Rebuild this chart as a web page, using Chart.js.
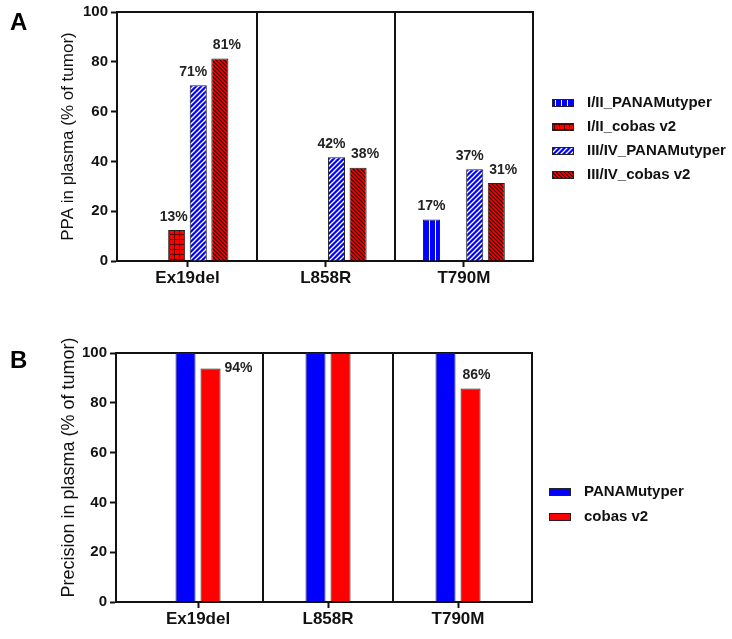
<!DOCTYPE html>
<html>
<head>
<meta charset="utf-8">
<script src="https://cdn.jsdelivr.net/npm/chart.js@4.4.1/dist/chart.umd.min.js"></script>
<style>
body{margin:0;background:#fff;}
#wrap{position:relative;width:732px;height:639px;}
canvas{position:absolute;left:0;}
</style>
</head>
<body>
<div id="wrap">
  <canvas id="chartA" width="732" height="310" style="top:0"></canvas>
  <canvas id="chartB" width="732" height="329" style="top:310px"></canvas>
</div>
<script>
const mutations = ['Ex19del', 'L858R', 'T790M'];
const yTicks = [0, 20, 40, 60, 80, 100];

// panel A : PPA in plasma, by stage and assay
const ppaSeries = ['I/II_PANAMutyper', 'I/II_cobas v2', 'III/IV_PANAMutyper', 'III/IV_cobas v2'];
const ppaEarlyPanama = [null, null, 16.7];
const ppaEarlyCobas = [12.5, null, null];
const ppaLatePanama = [70.6, 41.7, 36.8];
const ppaLateCobas = [81.3, 37.5, 31.3];

// panel B : precision in plasma
const precSeries = ['PANAMutyper', 'cobas v2'];
const precPanama = [100, 100, 100];
const precCobas = [93.8, 100, 85.7];

const BLUE = '#0000ff';
const RED = '#ff0000';
const INK = '#111';
Chart.defaults.font.family = '"Liberation Sans", Arial, sans-serif';

function pattern(kind) {
  const c = document.createElement('canvas');
  const g = c.getContext('2d');
  if (kind === 'vert') {
    c.width = 6; c.height = 6;
    g.fillStyle = BLUE; g.fillRect(0, 0, 6, 6);
    g.fillStyle = '#fff'; g.fillRect(3, 0, 1, 6);
  } else if (kind === 'grid') {
    c.width = 5; c.height = 5;
    g.fillStyle = RED; g.fillRect(0, 0, 5, 5);
    g.fillStyle = '#5a0000'; g.fillRect(4, 0, 1, 5); g.fillRect(0, 4, 5, 1);
  } else if (kind === 'fwd') {
    c.width = 5; c.height = 5;
    g.fillStyle = BLUE; g.fillRect(0, 0, 5, 5);
    g.strokeStyle = '#fff'; g.lineWidth = 1.3;
    g.beginPath();
    g.moveTo(0, 5); g.lineTo(5, 0);
    g.moveTo(-1, 1); g.lineTo(1, -1);
    g.moveTo(4, 6); g.lineTo(6, 4);
    g.stroke();
  } else {
    c.width = 4; c.height = 4;
    g.fillStyle = RED; g.fillRect(0, 0, 4, 4);
    g.strokeStyle = '#300'; g.lineWidth = 1.2;
    g.beginPath();
    g.moveTo(0, 0); g.lineTo(4, 4);
    g.moveTo(-1, 3); g.lineTo(1, 5);
    g.moveTo(3, -1); g.lineTo(5, 1);
    g.stroke();
  }
  return g.createPattern(c, 'repeat');
}

function points(arr) {
  return arr.map((v, i) => ({x: i, y: v}));
}

// frame box, dividers, value labels, legend and panel letter
const panelDecor = {
  id: 'panelDecor',
  beforeDatasetsDraw(chart, args, o) {
    const {ctx, chartArea: a, scales: {x}} = chart;
    ctx.save();
    ctx.strokeStyle = INK; ctx.lineWidth = 2;
    ctx.beginPath();
    ctx.moveTo(a.left, a.top); ctx.lineTo(a.right, a.top); ctx.lineTo(a.right, a.bottom);
    for (let i = 0; i < mutations.length - 1; i++) {
      const px = Math.round(x.getPixelForValue(i + 0.5));
      ctx.moveTo(px, a.top); ctx.lineTo(px, a.bottom);
    }
    ctx.stroke();
    ctx.restore();
  },
  afterDatasetsDraw(chart, args, o) {
    const {ctx, chartArea: a} = chart;
    ctx.save();
    ctx.font = 'bold 14px "Liberation Sans", Arial, sans-serif';
    ctx.fillStyle = '#222';
    chart.data.datasets.forEach((ds, di) => {
      const meta = chart.getDatasetMeta(di);
      const nudge = o.nudge[di] || 0;
      meta.data.forEach((bar, i) => {
        const v = ds.data[i].y;
        if (v === null || v >= 100) return;
        const txt = Math.round(v) + '%';
        if (bar.y - a.top < 24) {
          ctx.textAlign = 'left'; ctx.textBaseline = 'middle';
          ctx.fillText(txt, bar.x + bar.width / 2 + 4, bar.y);
        } else {
          ctx.textAlign = 'center'; ctx.textBaseline = 'bottom';
          ctx.fillText(txt, bar.x + nudge, bar.y - 6);
        }
      });
    });

    // legend
    ctx.font = 'bold 15px "Liberation Sans", Arial, sans-serif';
    ctx.textAlign = 'left'; ctx.textBaseline = 'middle';
    chart.data.datasets.forEach((ds, i) => {
      const y = o.legendY + i * o.legendStep;
      ctx.fillStyle = ds.backgroundColor;
      ctx.fillRect(o.legendX, y - 3.5, 22, 7);
      ctx.strokeStyle = '#222'; ctx.lineWidth = 1;
      ctx.strokeRect(o.legendX + 0.5, y - 3.5, 21, 7);
      ctx.fillStyle = INK;
      ctx.fillText(ds.label, o.legendX + 35, y);
    });

    // panel letter
    ctx.font = 'bold 24px "Liberation Sans", Arial, sans-serif';
    ctx.textBaseline = 'alphabetic';
    ctx.fillStyle = '#000';
    ctx.fillText(o.letter, 10, o.letterY);
    ctx.restore();
  }
};

function makeOptions(cfg) {
  return {
    responsive: false,
    animation: false,
    layout: {padding: {top: cfg.top, right: cfg.right, bottom: 0, left: 0}},
    datasets: {bar: {categoryPercentage: cfg.catPct, barPercentage: cfg.barPct, borderWidth: 1, borderColor: '#222'}},
    plugins: {
      legend: {display: false},
      tooltip: {enabled: false},
      panelDecor: {
        letter: cfg.letter, letterY: cfg.letterY, nudge: cfg.nudge,
        legendX: cfg.legendX, legendY: cfg.legendY, legendStep: cfg.legendStep
      }
    },
    scales: {
      x: {
        type: 'linear',
        min: cfg.xMin, max: cfg.xMax,
        offset: false,
        afterBuildTicks: s => { s.ticks = mutations.map((m, i) => ({value: i})); },
        afterFit: s => { s.height = cfg.xHeight; },
        ticks: {
          callback: v => mutations[v],
          font: {size: 17, weight: 'bold'}, color: INK, padding: 1,
          autoSkip: false, maxRotation: 0
        },
        grid: {offset: false, drawOnChartArea: false, tickLength: 6, tickWidth: 2, tickColor: INK},
        border: {color: INK, width: 2}
      },
      y: {
        min: 0, max: 100,
        afterBuildTicks: s => { s.ticks = yTicks.map(v => ({value: v})); },
        afterFit: s => { s.width = cfg.yWidth; },
        ticks: {font: {size: 15, weight: 'bold'}, color: INK, padding: 3},
        grid: {drawOnChartArea: false, tickLength: 6, tickWidth: 2, tickColor: INK},
        border: {color: INK, width: 2},
        title: {display: true, text: cfg.yTitle, font: {size: cfg.titleSize}, color: INK, padding: {top: cfg.titlePad, bottom: 0}}
      }
    }
  };
}

new Chart(document.getElementById('chartA'), {
  type: 'bar',
  data: {
    datasets: [
      {label: ppaSeries[0], data: points(ppaEarlyPanama), backgroundColor: pattern('vert')},
      {label: ppaSeries[1], data: points(ppaEarlyCobas), backgroundColor: pattern('grid')},
      {label: ppaSeries[2], data: points(ppaLatePanama), backgroundColor: pattern('fwd')},
      {label: ppaSeries[3], data: points(ppaLateCobas), backgroundColor: pattern('back')}
    ]
  },
  options: makeOptions({
    top: 12, right: 199, xHeight: 49, yWidth: 117,
    xMin: -0.51, xMax: 2.5, catPct: 0.625, barPct: 0.79,
    yTitle: 'PPA in plasma (% of tumor)', titleSize: 17, titlePad: 58,
    letter: 'A', letterY: 30, nudge: [0, -3, -5, 7],
    legendX: 552, legendY: 103, legendStep: 24
  }),
  plugins: [panelDecor]
});

new Chart(document.getElementById('chartB'), {
  type: 'bar',
  data: {
    datasets: [
      {label: precSeries[0], data: points(precPanama), backgroundColor: BLUE},
      {label: precSeries[1], data: points(precCobas), backgroundColor: RED}
    ]
  },
  options: makeOptions({
    top: 43, right: 200, xHeight: 37, yWidth: 116,
    xMin: -0.631, xMax: 2.569, catPct: 0.385, barPct: 0.8,
    yTitle: '    Precision in plasma (% of tumor)', titleSize: 18, titlePad: 58,
    letter: 'B', letterY: 58, nudge: [0, 6],
    legendX: 549, legendY: 182, legendStep: 25
  }),
  plugins: [panelDecor]
});
</script>
</body>
</html>
